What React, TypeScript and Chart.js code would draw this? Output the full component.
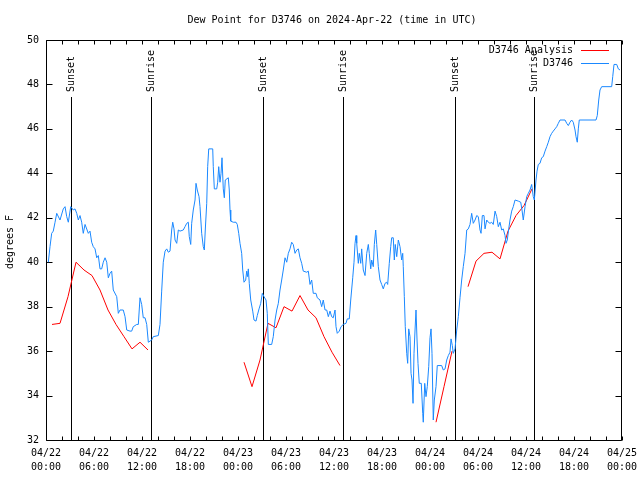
import React, { useEffect, useRef } from "react";
import { Chart, registerables } from "chart.js";

Chart.register(...registerables);

const TITLE = "Dew Point for D3746 on 2024-Apr-22 (time in UTC)";
const Y_TITLE = "degrees F";
const FONT = "DejaVu Sans Mono";

const X_TICK_DATES = ["04/22", "04/22", "04/22", "04/22", "04/23", "04/23", "04/23", "04/23", "04/24", "04/24", "04/24", "04/24", "04/25"];
const X_TICK_TIMES = ["00:00", "06:00", "12:00", "18:00", "00:00", "06:00", "12:00", "18:00", "00:00", "06:00", "12:00", "18:00", "00:00"];
const X_MIN = 0;
const X_MAX = 72;
const X_STEP = 6;
const X_MINOR_STEP = 2;
const Y_MIN = 32;
const Y_MAX = 50;
const Y_STEP = 2;

const SUN_LABELS = ["Sunset", "Sunrise", "Sunset", "Sunrise", "Sunset", "Sunrise"];
const SUN_HOURS = [3.12, 13.12, 27.15, 37.08, 51.18, 61.05];
const SUN_LINE_TOP = 47.43;

const SERIES_NAMES = ["D3746 Analysis", "D3746"];
const SERIES_COLORS = ["#ff0000", "#1a88ff"];

// D3746 Analysis (hourly), null = gap
const analysisHours = [
  0.75, 1.75, 2.75, 3.75, 4.75, 5.75, 6.75, 7.75, 8.75, 9.75, 10.75, 11.75, 12.75,
  13.75,
  24.75, 25.75, 26.75, 27.75, 28.75, 29.75, 30.75, 31.75, 32.75, 33.75, 34.75, 35.75, 36.75,
  37.75,
  48.75, 49.75, 50.75,
  51.75,
  52.75, 53.75, 54.75, 55.75, 56.75, 57.75, 58.75, 59.75, 60.75,
];
const analysisValues = [
  37.2, 37.25, 38.45, 40.0, 39.65, 39.4, 38.75, 37.85, 37.2, 36.65, 36.1, 36.4, 36.05,
  null,
  35.5, 34.4, 35.6, 37.25, 37.05, 38.0, 37.8, 38.5, 37.85, 37.5, 36.65, 35.95, 35.35,
  null,
  32.8, 34.4, 36.0,
  null,
  38.9, 40.05, 40.4, 40.45, 40.15, 41.4, 42.1, 42.55, 43.3,
];

// D3746 observations
const stationHours = [
  0.29, 0.5, 0.71, 0.91, 1.13, 1.34, 1.75, 2.16, 2.38, 2.59, 2.79, 3.09, 3.41, 3.63, 3.84, 4.04,
  4.25, 4.46, 4.66, 4.88, 5.29, 5.5, 5.71, 5.91, 6.13, 6.34, 6.54, 6.75, 6.96, 7.16, 7.38, 7.59,
  7.79, 8.0, 8.21, 8.41, 8.84, 9.04, 9.25, 9.66, 9.88, 10.09, 10.5, 10.71, 10.91, 11.34, 11.54,
  11.75, 11.96, 12.16, 12.38, 12.59, 12.79, 13.21, 13.41, 14.04, 14.25, 14.46, 14.66, 14.88,
  15.09, 15.29, 15.5, 15.71, 15.84, 16.0, 16.13, 16.34, 16.54, 16.75, 17.16, 17.38, 17.59, 17.79,
  17.91, 18.09, 18.21, 18.41, 18.63, 18.75, 18.91, 19.13, 19.25, 19.46, 19.66, 19.79, 19.91,
  20.09, 20.21, 20.34, 20.84, 20.91, 21.04, 21.34, 21.46, 21.59, 21.75, 21.88, 22.0, 22.16,
  22.29, 22.41, 22.79, 22.91, 23.0, 23.09, 23.41, 23.75, 23.91, 24.09, 24.25, 24.46, 24.59,
  24.75, 24.96, 25.09, 25.21, 25.29, 25.41, 25.59, 25.84, 26.0, 26.25, 26.41, 26.63, 26.84,
  27.04, 27.25, 27.5, 27.66, 27.79, 28.21, 28.41, 28.63, 28.84, 29.04, 29.25, 29.46, 29.66,
  29.88, 30.09, 30.29, 30.5, 30.71, 30.91, 31.13, 31.34, 31.54, 31.75, 31.96, 32.16, 32.59,
  32.79, 33.0, 33.21, 33.41, 33.75, 33.91, 34.25, 34.46, 34.66, 34.88, 35.09, 35.29, 35.5,
  35.71, 35.91, 36.13, 36.25, 36.41, 36.66, 36.88, 37.16, 37.5, 37.66, 37.91, 38.09, 38.34,
  38.5, 38.63, 38.75, 38.84, 39.04, 39.16, 39.34, 39.46, 39.66, 39.88, 40.09, 40.29, 40.41,
  40.59, 40.71, 40.91, 41.04, 41.21, 41.34, 41.54, 41.75, 41.96, 42.16, 42.38, 42.59, 42.71,
  42.91, 43.09, 43.21, 43.41, 43.54, 43.66, 43.84, 44.04, 44.25, 44.46, 44.59, 44.66, 44.79,
  44.91, 45.09, 45.21, 45.34, 45.5, 45.63, 45.75, 45.88, 46.0, 46.13, 46.25, 46.38, 46.5,
  46.66, 46.91, 47.09, 47.16, 47.34, 47.5, 47.66, 47.84, 48.0, 48.13, 48.25, 48.41, 48.54,
  48.75, 48.91, 49.46, 49.66, 49.88, 50.09, 50.29, 50.5, 50.63, 50.79, 50.91, 51.13, 51.34,
  51.54, 51.75, 51.96, 52.16, 52.38, 52.59, 52.79, 53.0, 53.21, 53.41, 53.63, 53.84, 54.04,
  54.25, 54.38, 54.54, 54.75, 54.88, 55.09, 55.29, 55.5, 55.71, 55.91, 56.13, 56.34, 56.54,
  56.75, 56.96, 57.16, 57.38, 57.5, 57.66, 57.84, 58.0, 58.21, 58.41, 58.63, 59.04, 59.34,
  59.5, 59.66, 59.88, 60.09, 60.29, 60.5, 60.71, 60.91, 61.04, 61.25, 61.38, 61.54, 61.75,
  61.96, 62.16, 62.38, 62.59, 62.79, 63.0, 63.21, 63.41, 63.63, 63.84, 64.04, 64.25, 64.88,
  65.09, 65.29, 65.5, 65.71, 65.91, 66.13, 66.25, 66.41, 66.54, 66.66, 68.75, 68.91, 69.09,
  69.25, 69.46, 70.71, 70.84, 71.0, 71.34, 71.54, 71.75,
];
const stationValues = [
  40.0, 40.7, 41.3, 41.4, 41.8, 42.2, 41.9, 42.4, 42.5, 42.05, 41.8, 42.5, 42.35, 42.4, 42.2, 41.9,
  42.1, 41.8, 41.3, 41.7, 41.3, 41.4, 40.9, 40.7, 40.6, 40.2, 40.3, 39.7, 39.7, 40.0, 40.2, 40.0,
  39.3, 39.5, 39.6, 38.75, 38.45, 37.7, 37.85, 37.85, 37.55, 36.95, 36.9, 36.9, 37.1, 37.2, 37.2,
  38.4, 38.1, 37.5, 37.5, 37.2, 36.4, 36.5, 36.65, 36.7, 37.2, 38.7, 40.0, 40.5,
  40.6, 40.45, 40.5, 41.45, 41.8, 41.5, 41.0, 40.85, 41.45, 41.4, 41.45, 41.6, 41.75, 41.8,
  41.15, 40.8, 41.75, 42.35, 42.8, 43.55, 43.25, 42.95, 42.5, 41.3, 40.7, 40.55, 41.45,
  42.65, 44.3, 45.1, 45.1, 44.3, 43.3, 43.3, 43.6, 44.3, 43.6, 44.0, 44.7, 43.3,
  42.9, 43.7, 43.8, 43.25, 42.35, 41.85, 41.8, 41.8, 41.7, 41.3, 40.85, 40.4, 39.65,
  39.1, 39.2, 39.6, 39.35, 39.7, 39.05, 38.3, 37.8, 37.4, 37.35, 37.6, 37.9, 38.15,
  38.6, 38.45, 38.3, 37.7, 36.3, 36.3, 36.65, 37.4, 37.85, 38.15, 38.75, 39.2, 39.65,
  40.2, 40.0, 40.4, 40.6, 40.9, 40.8, 40.4, 40.55, 40.6, 40.2, 39.95, 39.6, 39.55,
  39.6, 39.0, 39.2, 38.6, 38.6, 38.4, 38.3, 38.0, 38.3, 37.85, 37.85, 37.55, 37.8,
  37.55, 37.5, 37.85, 37.1, 36.8, 36.9, 37.1, 37.2, 37.25, 37.45, 37.45, 38.3, 39.3,
  40.0, 40.85, 41.2, 40.85, 39.95, 40.4, 39.95, 40.6, 39.65, 39.4, 40.4, 40.8, 40.4,
  39.7, 40.1, 39.8, 40.8, 41.45, 40.8, 39.8, 39.2, 39.0, 38.8, 39.05, 39.1, 39.0,
  39.95, 40.7, 41.1, 41.1, 40.1, 40.8, 40.25, 41.0, 40.7, 40.1, 40.4, 39.8, 38.45,
  37.1, 35.9, 35.45, 37.0, 36.65, 35.0, 34.7, 33.65, 35.9, 36.95, 37.85, 36.5, 35.45,
  34.55, 34.55, 33.2, 32.8, 34.55, 33.95, 34.4, 35.3, 36.6, 37.0, 35.9, 32.9, 33.8,
  34.4, 35.35, 35.35, 35.15, 35.2, 35.6, 35.8, 35.95, 36.55, 36.25, 35.9, 36.1, 36.95,
  37.55, 38.4, 39.2, 39.8, 40.4, 41.45, 41.5, 41.7, 42.2, 41.75, 41.9, 42.1, 42.05,
  41.45, 41.3, 42.1, 42.1, 41.5, 41.9, 41.8, 41.75, 41.8, 41.7, 42.3, 42.05, 41.6,
  41.8, 41.45, 41.5, 41.2, 40.85, 41.0, 41.5, 41.9, 42.3, 42.5, 42.8, 42.75, 42.7,
  42.35, 41.9, 42.5, 42.95, 43.1, 43.25, 43.5, 42.95, 42.8, 43.7, 44.1, 44.4, 44.45,
  44.7, 44.75, 45.0, 45.2, 45.4, 45.65, 45.8, 45.9, 46.0, 46.1, 46.25, 46.4, 46.4,
  46.25, 46.15, 46.3, 46.4, 46.3, 45.95, 45.65, 45.4, 46.0, 46.4, 46.4, 46.6, 47.3,
  47.75, 47.9, 47.9, 48.35, 48.9, 48.9, 48.7, 48.65,
];

const toPoints = (hours: number[], values: (number | null)[]) =>
  hours.map((h, i) => ({ x: h, y: values[i] }));

const frameAndSunPlugin = {
  id: "frameAndSun",
  beforeDatasetsDraw(chart: any) {
    const { ctx, chartArea: a, scales } = chart;
    const x = scales.x;
    const y = scales.y;
    ctx.save();
    ctx.strokeStyle = "#000";
    ctx.lineWidth = 1;
    const L = Math.round(a.left) + 0.5;
    const R = Math.round(a.right) - 0.5;
    const T = Math.round(a.top) + 0.5;
    const B = Math.round(a.bottom) + 0.5;
    ctx.beginPath();
    ctx.rect(L, T, R - L, B - T);
    // y ticks
    for (let v = Y_MIN; v <= Y_MAX; v += Y_STEP) {
      const py = Math.round(y.getPixelForValue(v)) + 0.5;
      ctx.moveTo(L, py);
      ctx.lineTo(L + 6, py);
      ctx.moveTo(R, py);
      ctx.lineTo(R - 6, py);
    }
    // x ticks
    for (let h = X_MIN; h <= X_MAX; h += X_MINOR_STEP) {
      const px = Math.round(x.getPixelForValue(h)) + 0.5;
      ctx.moveTo(px, B);
      ctx.lineTo(px, B - 4);
      ctx.moveTo(px, T);
      ctx.lineTo(px, T + 4);
    }
    ctx.stroke();

    // sunrise / sunset markers
    ctx.font = `10px "${FONT}"`;
    ctx.fillStyle = "#000";
    const yBottom = y.getPixelForValue(Y_MIN);
    const yTop = Math.round(y.getPixelForValue(SUN_LINE_TOP));
    SUN_HOURS.forEach((h, i) => {
      const px = Math.round(x.getPixelForValue(h)) + 0.5;
      ctx.beginPath();
      ctx.moveTo(px, yBottom);
      ctx.lineTo(px, yTop);
      ctx.stroke();
      ctx.save();
      ctx.translate(px, yTop - 5);
      ctx.rotate(-Math.PI / 2);
      ctx.textAlign = "left";
      ctx.textBaseline = "middle";
      ctx.fillText(SUN_LABELS[i], 0, 0);
      ctx.restore();
    });
    ctx.restore();
  },
  afterDraw(chart: any) {
    const { ctx, chartArea: a } = chart;
    ctx.save();
    ctx.fillStyle = "#000";
    ctx.font = `10px "${FONT}"`;
    // title
    ctx.textAlign = "center";
    ctx.textBaseline = "middle";
    ctx.fillText(TITLE, (a.left + a.right) / 2 - 2, 20);
    // y title
    ctx.save();
    ctx.translate(10, (a.top + a.bottom) / 2 + 2);
    ctx.rotate(-Math.PI / 2);
    ctx.fillText(Y_TITLE, 0, 0);
    ctx.restore();
    // legend
    SERIES_NAMES.forEach((name, i) => {
      const rowY = Math.round(a.top + 10 + i * 13);
      ctx.textAlign = "right";
      ctx.fillStyle = "#000";
      ctx.fillText(name, a.right - 49, rowY);
      ctx.strokeStyle = SERIES_COLORS[i];
      ctx.lineWidth = 1;
      ctx.beginPath();
      ctx.moveTo(a.right - 41, rowY + 0.5);
      ctx.lineTo(a.right - 13, rowY + 0.5);
      ctx.stroke();
    });
    ctx.restore();
  },
};

export default function App() {
  const canvasRef = useRef<HTMLCanvasElement | null>(null);

  useEffect(() => {
    if (!canvasRef.current) return;
    Chart.defaults.font.family = FONT;
    Chart.defaults.font.size = 10;
    Chart.defaults.color = "#000";
    const chart = new Chart(canvasRef.current, {
      type: "line",
      data: {
        datasets: [
          {
            label: SERIES_NAMES[1],
            data: toPoints(stationHours, stationValues),
            borderColor: SERIES_COLORS[1],
            backgroundColor: SERIES_COLORS[1],
            borderWidth: 1,
            pointRadius: 0,
            tension: 0,
            fill: false,
          },
          {
            label: SERIES_NAMES[0],
            data: toPoints(analysisHours, analysisValues),
            borderColor: SERIES_COLORS[0],
            backgroundColor: SERIES_COLORS[0],
            borderWidth: 1,
            pointRadius: 0,
            tension: 0,
            spanGaps: false,
            fill: false,
          },
        ],
      },
      options: {
        animation: false,
        responsive: false,
        devicePixelRatio: 1,
        layout: { padding: { left: 0, top: 40, right: 18, bottom: 0 } },
        plugins: {
          legend: { display: false },
          title: { display: false },
          tooltip: { enabled: false },
        },
        scales: {
          x: {
            type: "linear",
            min: X_MIN,
            max: X_MAX,
            grid: { display: false, drawTicks: false },
            border: { display: false },
            afterFit: (scale: any) => {
              scale.height = 40;
              scale.paddingLeft = 0;
              scale.paddingRight = 0;
            },
            ticks: {
              stepSize: X_STEP,
              autoSkip: false,
              maxRotation: 0,
              padding: 6,
              font: { family: FONT, size: 10, lineHeight: 1.4 },
              color: "#000",
              callback: (value: any) => {
                const idx = Math.round(Number(value) / X_STEP);
                return [X_TICK_DATES[idx], X_TICK_TIMES[idx]];
              },
            },
          },
          y: {
            type: "linear",
            min: Y_MIN,
            max: Y_MAX,
            grid: { display: false, drawTicks: false },
            border: { display: false },
            afterFit: (scale: any) => {
              scale.width = 46;
              scale.paddingTop = 0;
              scale.paddingBottom = 0;
            },
            ticks: {
              stepSize: Y_STEP,
              padding: 7,
              font: { family: FONT, size: 10 },
              color: "#000",
            },
          },
        },
      },
      plugins: [frameAndSunPlugin],
    });
    return () => chart.destroy();
  }, []);

  return (
    <div style={{ position: "absolute", left: 0, top: 0, width: 640, height: 480 }}>
      <canvas ref={canvasRef} width={640} height={480} />
    </div>
  );
}
